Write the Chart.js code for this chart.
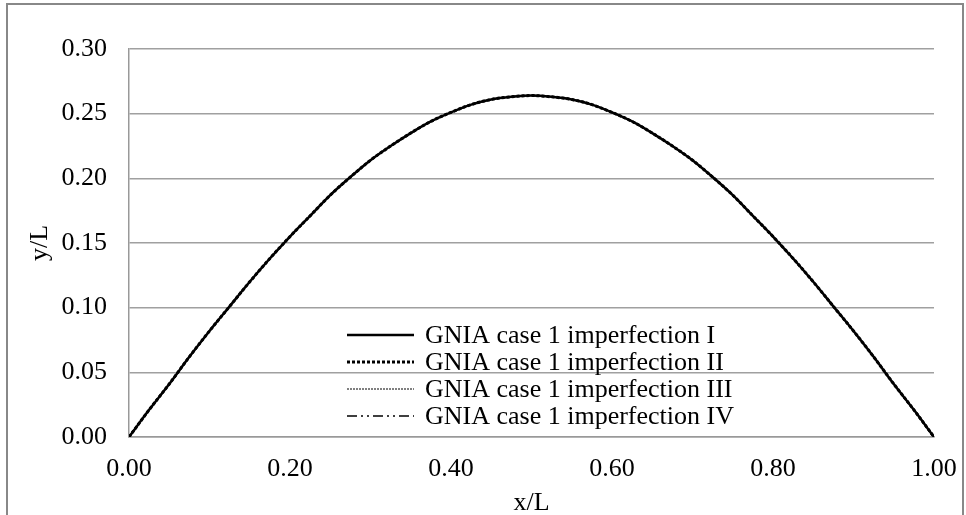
<!DOCTYPE html>
<html>
<head>
<meta charset="utf-8">
<script src="https://cdn.jsdelivr.net/npm/chart.js@4.4.1/dist/chart.umd.min.js"></script>
<style>
  html, body { margin: 0; padding: 0; background: #fff; }
  #wrap { position: relative; width: 966px; height: 515px; overflow: hidden; }
  #frame {
    position: absolute; left: 6px; top: 3px; width: 958px; height: 600px;
    border: 2px solid #888; border-bottom: none; box-sizing: border-box;
    pointer-events: none;
  }
</style>
</head>
<body>
<div id="wrap">
  <canvas id="chart" width="966" height="515"></canvas>
  <div id="frame"></div>
</div>
<script>
// x/L positions where the curves were read
const xValues = [
  0, 0.025, 0.05, 0.075, 0.1, 0.125, 0.15, 0.175, 0.2, 0.225, 0.25,
  0.275, 0.3, 0.325, 0.35, 0.375, 0.4, 0.425, 0.45, 0.475, 0.5,
  0.525, 0.55, 0.575, 0.6, 0.625, 0.65, 0.675, 0.7, 0.725, 0.75,
  0.775, 0.8, 0.825, 0.85, 0.875, 0.9, 0.925, 0.95, 0.975, 1
];

// y/L for each imperfection (the four curves lie on top of each other)
const yImpI = [
  0, 0.021, 0.041, 0.062, 0.082, 0.101, 0.120, 0.138, 0.155, 0.171, 0.187,
  0.201, 0.214, 0.225, 0.235, 0.244, 0.251, 0.257, 0.261, 0.263, 0.264,
  0.263, 0.261, 0.257, 0.251, 0.244, 0.235, 0.225, 0.214, 0.201, 0.187,
  0.171, 0.155, 0.138, 0.120, 0.101, 0.082, 0.062, 0.041, 0.021, 0
];
const yImpII = [
  0, 0.021, 0.041, 0.062, 0.082, 0.101, 0.120, 0.138, 0.155, 0.171, 0.187,
  0.201, 0.214, 0.225, 0.235, 0.244, 0.251, 0.257, 0.261, 0.263, 0.264,
  0.263, 0.261, 0.257, 0.251, 0.244, 0.235, 0.225, 0.214, 0.201, 0.187,
  0.171, 0.155, 0.138, 0.120, 0.101, 0.082, 0.062, 0.041, 0.021, 0
];
const yImpIII = [
  0, 0.021, 0.041, 0.062, 0.082, 0.101, 0.120, 0.138, 0.155, 0.171, 0.187,
  0.201, 0.214, 0.225, 0.235, 0.244, 0.251, 0.257, 0.261, 0.263, 0.264,
  0.263, 0.261, 0.257, 0.251, 0.244, 0.235, 0.225, 0.214, 0.201, 0.187,
  0.171, 0.155, 0.138, 0.120, 0.101, 0.082, 0.062, 0.041, 0.021, 0
];
const yImpIV = [
  0, 0.021, 0.041, 0.062, 0.082, 0.101, 0.120, 0.138, 0.155, 0.171, 0.187,
  0.201, 0.214, 0.225, 0.235, 0.244, 0.251, 0.257, 0.261, 0.263, 0.264,
  0.263, 0.261, 0.257, 0.251, 0.244, 0.235, 0.225, 0.214, 0.201, 0.187,
  0.171, 0.155, 0.138, 0.120, 0.101, 0.082, 0.062, 0.041, 0.021, 0
];

const seriesNames = [
  'GNIA case 1 imperfection I',
  'GNIA case 1 imperfection II',
  'GNIA case 1 imperfection III',
  'GNIA case 1 imperfection IV'
];
const seriesValues = [yImpI, yImpII, yImpIII, yImpIV];

const xTicks = [0, 0.2, 0.4, 0.6, 0.8, 1.0];
const yTicks = [0, 0.05, 0.10, 0.15, 0.20, 0.25, 0.30];

const FONT = '"Liberation Serif", "Times New Roman", serif';
const lineStyles = [
  { width: 2.5, dash: [] },
  { width: 3, dash: [3, 2] },
  { width: 1, dash: [2, 1] },
  { width: 1.5, dash: [10, 4, 2, 4, 2, 4] }
];

function toPoints(ys) {
  return xValues.map((x, i) => ({ x: x, y: ys[i] }));
}

const datasets = seriesValues.map((ys, i) => ({
  label: seriesNames[i],
  data: toPoints(ys),
  showLine: true,
  borderColor: '#000',
  borderWidth: lineStyles[i].width,
  borderDash: lineStyles[i].dash,
  pointRadius: 0,
  cubicInterpolationMode: 'monotone',
  order: 4 - i
}));

// legend drawn inside the plot, like the original
const insideLegend = {
  id: 'insideLegend',
  afterDraw(chart) {
    const ctx = chart.ctx;
    const left = chart.chartArea.left;
    ctx.save();
    ctx.font = '26px ' + FONT;
    ctx.fillStyle = '#000';
    ctx.textBaseline = 'middle';
    seriesNames.forEach((name, i) => {
      const y = 335 + i * 27;
      ctx.beginPath();
      ctx.strokeStyle = '#000';
      ctx.lineWidth = lineStyles[i].width;
      ctx.setLineDash(lineStyles[i].dash);
      ctx.moveTo(left + 218, y);
      ctx.lineTo(left + 285, y);
      ctx.stroke();
      ctx.setLineDash([]);
      ctx.fillText(name, left + 296, y + 1);
    });
    ctx.restore();
  }
};

new Chart(document.getElementById('chart'), {
  type: 'scatter',
  data: { datasets: datasets },
  plugins: [insideLegend],
  options: {
    responsive: false,
    animation: false,
    layout: { padding: { top: 49, right: 32, left: 0, bottom: 0 } },
    plugins: {
      legend: { display: false },
      tooltip: { enabled: false }
    },
    scales: {
      x: {
        type: 'linear',
        min: 0,
        max: 1,
        afterFit: (s) => {
          s.height = 78;
          // let the layout padding alone decide the plot edges
          s.paddingLeft = 0;
          s.paddingRight = 0;
        },
        afterBuildTicks: (s) => { s.ticks = xTicks.map(v => ({ value: v })); },
        ticks: {
          padding: 17,
          color: '#000',
          font: { family: FONT, size: 26 },
          callback: (v) => Number(v).toFixed(2)
        },
        grid: { display: false, drawTicks: false },
        border: { display: true, color: '#999', width: 1.5 },
        title: {
          display: true,
          text: 'x/L',
          color: '#000',
          font: { family: FONT, size: 26, lineHeight: 0.9 },
          padding: { top: 0, bottom: 0 }
        }
      },
      y: {
        min: 0,
        max: 0.3,
        afterFit: (s) => { s.width = 129; },
        afterBuildTicks: (s) => { s.ticks = yTicks.map(v => ({ value: v })); },
        ticks: {
          padding: 22,
          color: '#000',
          font: { family: FONT, size: 26 },
          callback: (v) => Number(v).toFixed(2)
        },
        grid: { color: '#a0a0a0', lineWidth: 1.5, drawTicks: false },
        border: { display: true, color: '#999', width: 1.5 },
        title: {
          display: true,
          text: 'y/L',
          color: '#000',
          font: { family: FONT, size: 26, lineHeight: 1 },
          padding: { top: 27, bottom: 0 }
        }
      }
    }
  }
});
</script>
</body>
</html>
